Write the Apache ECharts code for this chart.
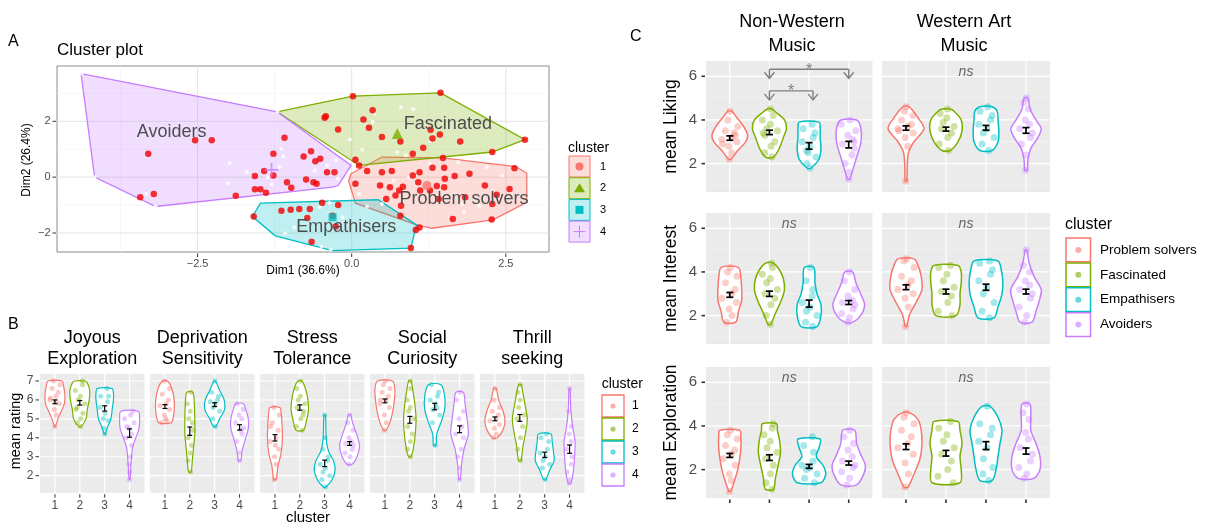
<!DOCTYPE html>
<html><head><meta charset="utf-8">
<script src="https://cdn.jsdelivr.net/npm/echarts@6/dist/echarts.min.js"></script>
<style>html,body{margin:0;padding:0;background:#fff}#c{width:1208px;height:529px}</style>
</head><body><div id="c"></div>
<script>
const FONT = '"Liberation Sans", Arial, Helvetica, sans-serif';
const clusterColors = ['#F8766D','#7CAE00','#00BFC4','#C77CFF'];
const clusterNames = ['Problem solvers','Fascinated','Empathisers','Avoiders'];
const clusterIds = ['1','2','3','4'];

// ---------- Panel A data ----------
const aTicksX = [-2.5, 0, 2.5];
const aTickLabelsX = ['\u22122.5','0.0','2.5'];
const aTicksY = [-2, 0, 2];
const aTickLabelsY = ['\u22122','0','2'];
const hullProblem = [[-0.01,0.12],[0.49,0.72],[1.48,0.69],[2.66,0.38],[2.84,0.14],[2.84,-0.90],[2.29,-1.53],[1.30,-1.83],[1.05,-1.71],[0.06,-0.93],[-0.05,-0.14]];
const hullFascinated = [[-1.21,2.34],[0.02,2.90],[1.44,3.02],[2.81,1.34],[2.28,0.90],[0.12,0.42]];
const hullEmpath = [[-1.48,-0.93],[0.43,-0.81],[1.05,-1.71],[0.96,-2.54],[-0.31,-2.63],[-1.24,-2.10],[-1.61,-1.41]];
const hullAvoid = [[-4.39,3.71],[-1.21,2.34],[-0.01,0.42],[-0.22,-0.30],[-0.31,-0.36],[-3.18,-1.05],[-4.17,0.0]];
const aCenters = [[1.22,-0.30],[0.74,1.56],[-0.31,-1.44],[-1.30,0.26]];
const aLabelPos = [[1.82,-0.78],[1.56,1.92],[-0.09,-1.80],[-2.92,1.62]];
const aRedPoints = [[0.02,2.90],[1.44,3.02],[0.34,2.40],[-0.44,2.13],[-0.42,2.18],[0.19,2.06],[-0.22,1.71],[0.28,1.77],[0.49,1.44],[1.28,1.70],[1.31,1.38],[1.43,1.53],[1.76,1.28],[2.81,1.34],[0.79,1.28],[1.16,1.05],[0.99,0.84],[2.28,0.90],[1.48,0.69],[0.06,0.62],[0.12,0.42],[-1.09,1.41],[-1.27,0.84],[-0.66,0.93],[-0.78,0.74],[-0.59,0.57],[-0.51,0.66],[-2.54,1.32],[-2.27,1.32],[-3.30,0.84],[-1.57,0.04],[-1.42,0.22],[-1.27,0.06],[-1.05,-0.18],[-0.98,-0.38],[-0.74,-0.08],[-0.62,-0.18],[-0.57,-0.24],[-0.40,0.18],[-0.28,0.18],[-1.57,-0.43],[-1.48,-0.43],[-1.39,-0.56],[-1.88,-0.67],[-3.43,-0.72],[-3.21,-0.60],[0.25,0.22],[0.49,0.18],[0.65,0.22],[0.99,0.06],[1.10,0.18],[1.31,0.34],[1.50,0.34],[1.67,0.04],[1.91,0.12],[1.51,-0.06],[1.08,-0.18],[0.46,-0.30],[0.62,-0.36],[0.83,-0.34],[1.11,-0.48],[1.27,-0.48],[1.38,-0.32],[1.50,-0.36],[2.16,-0.30],[2.56,-0.42],[2.64,0.32],[2.35,-0.63],[2.28,-0.96],[1.84,-0.72],[1.41,-0.78],[0.77,-0.48],[0.71,-0.66],[0.80,-1.02],[0.79,-1.38],[0.56,-0.78],[0.06,-0.24],[1.64,-1.50],[2.27,-1.52],[1.10,-1.80],[1.04,-1.89],[0.96,-2.54],[-0.99,-1.17],[-0.85,-1.14],[-0.68,-1.14],[-0.48,-0.92],[-0.22,-1.00],[-1.14,-1.20],[-1.59,-1.41],[-0.72,-1.46],[-0.31,-1.38],[-0.26,-1.77],[-0.65,-2.31]];
const aWhitePoints = [[0.80,2.51],[1.00,2.43],[0.37,2.28],[0.34,1.98],[0.17,0.98],[-0.03,1.35],[0.74,0.90],[1.27,1.29],[0.88,0.78],[-1.98,0.51],[-1.70,0.18],[-1.14,1.02],[-1.11,0.74],[-1.17,0.36],[-1.36,0.00],[-1.30,-0.26],[-2.01,-0.22],[-0.40,0.42],[-0.25,0.60],[-0.22,-0.06],[-0.60,0.24],[-0.36,-0.92],[-0.52,-1.08],[-1.08,-2.01],[-0.93,-1.80],[-0.49,-2.49],[-0.34,-2.60],[-0.15,-1.44],[-0.12,-1.62],[0.12,-0.60],[0.25,-1.05],[0.68,-0.12],[0.93,0.00],[1.27,0.48],[1.73,0.54],[2.19,0.36],[2.44,0.06],[1.79,-0.96],[2.07,-1.02],[1.82,-1.26],[0.49,-0.96],[-1.20,2.34],[-4.17,0.00],[-3.33,-0.60],[-3.18,-1.05],[-4.38,3.71]];

// ---------- Panel B data ----------
const bFacets = ['Joyous\nExploration','Deprivation\nSensitivity','Stress\nTolerance','Social\nCuriosity','Thrill\nseeking'];
const bYTicks = [2,3,4,5,6,7];
const bYTickLabels = ['2','3','4','5','6','7'];
const bXTickLabels = ['1','2','3','4'];
// violin profiles: [rating, half-width]
const bViolins = [
  [ [[4.6,0.02],[5.0,0.12],[5.4,0.25],[5.8,0.38],[6.3,0.4],[6.7,0.35],[7.0,0.28]],
    [[4.6,0.05],[5.0,0.25],[5.5,0.3],[6.0,0.38],[6.5,0.4],[6.9,0.3],[7.0,0.2]],
    [[4.2,0.02],[4.6,0.12],[5.0,0.25],[5.5,0.3],[6.0,0.35],[6.4,0.35],[6.6,0.3]],
    [[1.8,0.02],[2.5,0.05],[3.0,0.08],[3.5,0.12],[4.0,0.25],[4.5,0.38],[5.0,0.4],[5.4,0.35]] ],
  [ [[4.8,0.25],[5.2,0.35],[5.7,0.38],[6.2,0.35],[6.7,0.25],[7.0,0.1]],
    [[2.2,0.05],[2.8,0.1],[3.5,0.15],[4.2,0.2],[5.0,0.2],[5.8,0.18],[6.4,0.12]],
    [[4.6,0.05],[5.0,0.2],[5.5,0.4],[6.0,0.38],[6.5,0.2],[7.0,0.03]],
    [[2.8,0.05],[3.3,0.1],[3.8,0.2],[4.5,0.35],[5.0,0.35],[5.5,0.25],[5.8,0.15]] ],
  [ [[1.8,0.05],[2.5,0.12],[3.2,0.25],[4.0,0.3],[4.8,0.28],[5.3,0.25],[5.6,0.2]],
    [[4.4,0.15],[4.8,0.25],[5.5,0.35],[6.2,0.3],[6.7,0.2],[7.0,0.08]],
    [[1.4,0.05],[1.8,0.3],[2.3,0.42],[2.8,0.35],[3.3,0.15],[4.0,0.06],[5.2,0.03]],
    [[2.6,0.1],[3.0,0.3],[3.6,0.4],[4.2,0.28],[4.8,0.12],[5.2,0.05]] ],
  [ [[4.4,0.05],[4.8,0.2],[5.3,0.3],[6.0,0.38],[6.6,0.4],[7.0,0.3]],
    [[3.0,0.05],[3.5,0.15],[4.2,0.22],[5.0,0.25],[5.8,0.2],[6.5,0.12],[7.0,0.05]],
    [[3.6,0.05],[4.2,0.08],[4.8,0.25],[5.5,0.4],[6.2,0.4],[6.8,0.25]],
    [[1.8,0.03],[2.6,0.08],[3.4,0.18],[4.2,0.35],[5.0,0.3],[5.8,0.22],[6.4,0.15]] ],
  [ [[4.0,0.1],[4.5,0.35],[5.0,0.4],[5.5,0.3],[6.0,0.15],[6.6,0.05]],
    [[2.8,0.05],[3.5,0.12],[4.2,0.22],[5.0,0.3],[5.8,0.2],[6.4,0.12],[6.8,0.05]],
    [[1.8,0.05],[2.3,0.2],[2.8,0.38],[3.3,0.35],[3.8,0.3],[4.2,0.25]],
    [[1.6,0.05],[2.2,0.15],[3.0,0.2],[3.8,0.22],[4.6,0.12],[5.5,0.05],[6.6,0.02]] ]
];
const bPoints = [
  [ [4.6,5.2,5.5,5.8,6.0,6.2,6.4,6.6,6.8,7.0,5.9,6.1],
    [4.6,4.8,5.0,5.3,5.6,5.8,6.0,6.2,6.5,6.8,7.0,5.5],
    [4.2,4.5,4.9,5.0,5.3,5.6,5.9,6.2,6.2,6.6],
    [1.8,2.2,2.6,3.0,3.6,4.0,4.2,4.5,4.8,5.0,5.2,5.4,4.6] ],
  [ [4.8,4.9,5.2,5.5,5.7,5.8,6.0,6.3,6.6,7.0,5.0],
    [2.2,2.8,3.2,3.6,4.0,4.4,5.0,5.4,5.8,6.4,4.8],
    [4.6,5.0,5.4,5.6,5.8,5.9,6.0,6.2,6.4,7.0],
    [2.8,3.2,3.8,4.2,4.5,4.8,5.0,5.2,5.5,5.8,4.4] ],
  [ [1.8,2.6,3.0,3.4,3.8,4.0,4.4,4.8,5.2,5.6,3.6,4.6],
    [4.4,4.6,5.0,5.2,5.6,5.8,6.0,6.2,6.6,7.0,5.4],
    [1.4,1.8,2.0,2.2,2.4,2.6,2.8,3.0,3.4,4.0,5.2],
    [2.6,3.0,3.2,3.4,3.6,3.7,3.8,4.0,4.4,4.8,5.2] ],
  [ [4.4,4.8,5.2,5.6,5.8,6.0,6.2,6.4,6.6,6.8,7.0,6.0],
    [3.0,3.4,3.8,4.2,4.6,5.0,5.4,5.6,6.0,6.6,7.0],
    [3.6,4.8,5.2,5.5,5.8,6.0,6.2,6.4,6.8,5.6],
    [1.8,2.4,3.0,3.4,4.0,4.2,4.6,5.0,5.4,6.0,6.4] ],
  [ [4.0,4.2,4.5,4.7,4.9,5.0,5.2,5.4,5.6,6.0,6.6],
    [2.8,3.4,4.0,4.6,5.0,5.2,5.6,6.0,6.4,6.8],
    [1.8,2.4,2.6,2.8,3.0,3.2,3.4,3.8,4.0,4.2],
    [1.6,1.8,2.2,2.6,3.0,3.4,3.8,4.2,4.6,5.4,6.6] ]
];
const bMeans = [[5.9,5.85,5.55,4.25],[5.65,4.35,5.75,4.55],[4.0,5.6,2.65,3.7],[5.95,4.95,5.65,4.45],[5.0,5.05,3.1,3.4]];
const bSE = [[0.1,0.12,0.14,0.22],[0.1,0.22,0.1,0.14],[0.17,0.14,0.17,0.1],[0.1,0.18,0.17,0.18],[0.1,0.18,0.14,0.22]];

// ---------- Panel C data ----------
const cCols = ['Non-Western\nMusic','Western Art\nMusic'];
const cRows = ['mean Liking','mean Interest','mean Exploration'];
const cYTicks = [2,4,6];
const cYTickLabels = ['2','4','6'];
// cViolins[row][col][cluster]
const cViolins = [
  [ [ [[2.2,0.03],[2.6,0.2],[3.0,0.4],[3.3,0.45],[3.7,0.35],[4.1,0.18],[4.4,0.05]],
      [[2.3,0.1],[2.7,0.25],[3.2,0.35],[3.6,0.43],[4.0,0.38],[4.3,0.2],[4.5,0.05]],
      [[1.8,0.05],[2.2,0.25],[2.7,0.3],[3.2,0.28],[3.6,0.28],[3.9,0.25]],
      [[1.3,0.03],[1.7,0.1],[2.3,0.2],[2.9,0.3],[3.4,0.32],[3.8,0.28],[4.0,0.2]] ],
    [ [[1.2,0.02],[1.8,0.03],[2.5,0.06],[3.0,0.2],[3.6,0.45],[4.1,0.3],[4.6,0.08]],
      [[2.6,0.1],[3.0,0.3],[3.5,0.4],[4.0,0.38],[4.4,0.2],[4.5,0.1]],
      [[2.6,0.15],[3.0,0.3],[3.5,0.32],[4.0,0.3],[4.4,0.28],[4.6,0.15]],
      [[1.7,0.03],[2.2,0.05],[2.7,0.12],[3.2,0.3],[3.6,0.38],[4.0,0.25],[4.5,0.1],[5.0,0.05]] ] ],
  [ [ [[1.7,0.15],[2.2,0.22],[2.7,0.3],[3.2,0.3],[3.7,0.28],[4.2,0.22]],
      [[1.6,0.03],[2.1,0.15],[2.7,0.3],[3.2,0.38],[3.7,0.35],[4.1,0.25],[4.4,0.1]],
      [[1.5,0.2],[2.0,0.3],[2.5,0.3],[3.0,0.2],[3.5,0.15],[4.2,0.12]],
      [[1.7,0.1],[2.0,0.3],[2.5,0.4],[3.0,0.3],[3.5,0.18],[4.0,0.1]] ],
    [ [[1.5,0.02],[2.0,0.08],[2.6,0.25],[3.2,0.4],[3.8,0.38],[4.3,0.3],[4.6,0.2]],
      [[2.0,0.25],[2.5,0.35],[3.0,0.35],[3.5,0.38],[4.0,0.38],[4.3,0.3]],
      [[1.9,0.2],[2.4,0.3],[3.0,0.4],[3.6,0.42],[4.1,0.38],[4.5,0.3]],
      [[1.7,0.15],[2.2,0.25],[2.8,0.35],[3.2,0.38],[3.8,0.2],[4.4,0.08],[5.0,0.02]] ] ],
  [ [ [[1.0,0.02],[1.5,0.12],[2.0,0.2],[2.5,0.25],[3.0,0.28],[3.5,0.28],[3.8,0.25]],
      [[1.1,0.1],[1.6,0.15],[2.2,0.22],[2.8,0.28],[3.4,0.25],[3.8,0.2],[4.1,0.18]],
      [[1.4,0.3],[1.8,0.42],[2.2,0.35],[2.6,0.18],[3.0,0.25],[3.4,0.28]],
      [[1.3,0.2],[1.8,0.38],[2.2,0.42],[2.7,0.3],[3.2,0.2],[3.8,0.15]] ],
    [ [[1.2,0.05],[1.8,0.2],[2.5,0.35],[3.2,0.4],[3.8,0.38],[4.3,0.3],[4.6,0.1]],
      [[1.4,0.35],[2.0,0.38],[2.6,0.35],[3.2,0.4],[3.8,0.35],[4.2,0.3]],
      [[1.5,0.15],[2.0,0.25],[2.6,0.3],[3.2,0.35],[3.8,0.4],[4.4,0.3],[4.9,0.1]],
      [[1.6,0.2],[2.0,0.35],[2.6,0.35],[3.2,0.25],[3.8,0.12],[4.4,0.12],[5.0,0.1]] ] ]
];
const cPoints = [
  [ [ [2.2,2.5,2.8,3.0,3.1,3.2,3.3,3.5,3.7,4.0,4.4,2.9,3.4],
      [2.3,2.5,2.8,3.0,3.3,3.5,3.6,3.8,4.0,4.2,4.5,3.4],
      [1.8,2.0,2.3,2.6,2.8,3.0,3.2,3.4,3.6,3.8,2.5],
      [1.3,1.6,2.0,2.4,2.7,2.9,3.1,3.3,3.5,3.8,4.0,3.0] ],
    [ [1.2,2.8,3.2,3.4,3.6,3.7,3.8,4.0,4.2,4.4,4.6,3.5],
      [2.6,2.9,3.2,3.4,3.6,3.7,3.9,4.1,4.3,4.5],
      [2.6,2.9,3.2,3.4,3.6,3.8,4.0,4.2,4.4,4.6],
      [1.7,2.4,2.9,3.2,3.4,3.6,3.8,4.0,4.5,4.8,5.0] ] ],
  [ [ [1.7,2.0,2.3,2.6,2.8,3.0,3.2,3.5,3.8,4.0,4.2],
      [1.6,2.0,2.5,2.8,3.0,3.2,3.5,3.7,3.9,4.2,4.4],
      [1.5,1.7,2.0,2.2,2.4,2.6,2.9,3.2,3.6,4.2],
      [1.7,1.9,2.1,2.3,2.5,2.6,2.7,2.9,3.2,3.6,4.0] ],
    [ [1.5,2.4,2.8,3.0,3.2,3.4,3.6,3.8,4.2,4.5,4.6],
      [2.0,2.2,2.6,2.9,3.1,3.3,3.6,3.9,4.2,4.3],
      [1.9,2.2,2.6,3.0,3.3,3.6,3.9,4.1,4.4,4.5],
      [1.7,2.0,2.4,2.8,3.0,3.2,3.4,3.6,4.0,4.3,5.0] ] ],
  [ [ [1.0,1.5,1.8,2.2,2.5,2.7,2.9,3.1,3.4,3.6,3.8],
      [1.1,1.4,1.8,2.2,2.5,2.8,3.0,3.3,3.6,3.9,4.1],
      [1.4,1.6,1.8,2.0,2.1,2.2,2.4,2.8,3.1,3.5],
      [1.3,1.6,1.9,2.1,2.2,2.4,2.6,2.9,3.2,3.5,3.8] ],
    [ [1.2,1.8,2.3,2.7,3.0,3.2,3.5,3.8,4.1,4.4,4.6],
      [1.4,1.7,2.0,2.4,2.7,3.0,3.3,3.6,3.9,4.2],
      [1.5,1.8,2.1,2.5,3.0,3.3,3.6,3.9,4.1,4.9],
      [1.6,1.8,2.1,2.4,2.7,3.0,3.4,3.7,4.3,4.6,5.0] ] ]
];
const cMeans = [ [[3.17,3.43,2.81,2.87],[3.63,3.58,3.64,3.52]],
                 [[2.95,3.0,2.55,2.6],[3.3,3.1,3.3,3.1]],
                 [[2.65,2.55,2.15,2.3],[3.05,2.75,3.1,2.85]] ];
const cSE = [ [[0.1,0.1,0.15,0.15],[0.1,0.09,0.11,0.13]],
              [[0.11,0.12,0.16,0.09],[0.11,0.11,0.14,0.11]],
              [[0.09,0.13,0.09,0.09],[0.13,0.13,0.18,0.14]] ];
const sigBrackets = [[2,4,6.32],[2,3.1,5.33]];
const sigLabels = ['*','*'];
const nsLabel = 'ns';
const nsPos = [2.5, 6.2];

// ---------- layout (pixels) ----------
const jitterPattern = [-0.35,0.2,-0.05,0.4,-0.45,0.1,0.3,-0.25,0.45,-0.15,0.05,-0.4,0.25,0.35];
const A_RANGE = {x:[-4.78,3.2], y:[-2.68,3.98]};
const B_RANGE = {x:[0.4,4.6], y:[1.1,7.37]};
const C_RANGE = {x:[0.4,4.6], y:[0.7,6.7]};
const bLefts = [40,150,260,370,480], bTop = 374, bW = 104.5, bH = 118.7;
const cLefts = [706,882], cWs = [166.5,168], cTops = [61,213,367], cH = 131;

function halfWidthAt(prof, y){
  if (y <= prof[0][0]) return prof[0][1];
  for (let i=1;i<prof.length;i++){
    if (y <= prof[i][0]) {
      const t = (y-prof[i-1][0])/(prof[i][0]-prof[i-1][0]);
      return prof[i-1][1] + t*(prof[i][1]-prof[i-1][1]);
    }
  }
  return prof[prof.length-1][1];
}
function hexA(hex, a){
  const r=parseInt(hex.slice(1,3),16), g=parseInt(hex.slice(3,5),16), b=parseInt(hex.slice(5,7),16);
  return 'rgba('+r+','+g+','+b+','+a+')';
}
function ln(a,b,color,w){ return {type:'line', shape:{x1:a[0],y1:a[1],x2:b[0],y2:b[1]}, style:{stroke:color,lineWidth:w}}; }
function tx(x,y,text,font,fill,align,valign,extra){
  const el = {type:'text', x:x, y:y, style:{text:text, font:font, fill:fill, align:align, textAlign:align, verticalAlign:valign, textVerticalAlign:valign}};
  if (extra) Object.assign(el, extra);
  return el;
}

const grids = [], xAxes = [], yAxes = [], series = [];
function addGrid(rect, range, bg, border){
  const gi = grids.length;
  grids.push(Object.assign({show:true, backgroundColor:bg, borderWidth:border?1:0, borderColor:border||'transparent', containLabel:false}, rect));
  xAxes.push({gridIndex:gi, type:'value', min:range.x[0], max:range.x[1], show:false});
  yAxes.push({gridIndex:gi, type:'value', min:range.y[0], max:range.y[1], show:false});
  return gi;
}
function frame(gi, cfg){
  return {type:'custom', xAxisIndex:gi, yAxisIndex:gi, z:1, silent:true, clip:false,
    data:[[ (cfg.xr[0]+cfg.xr[1])/2, (cfg.yr[0]+cfg.yr[1])/2 ]],
    renderItem: function(params, api){
      const P = (x,y)=>api.coord([x,y]);
      const ch = [];
      (cfg.yMinor||[]).forEach(v=>ch.push(ln(P(cfg.xr[0],v),P(cfg.xr[1],v),cfg.minorColor,cfg.minorW)));
      (cfg.xMinor||[]).forEach(v=>ch.push(ln(P(v,cfg.yr[0]),P(v,cfg.yr[1]),cfg.minorColor,cfg.minorW)));
      cfg.yMajor.forEach(v=>ch.push(ln(P(cfg.xr[0],v),P(cfg.xr[1],v),cfg.majorColor,cfg.majorW)));
      cfg.xMajor.forEach(v=>ch.push(ln(P(v,cfg.yr[0]),P(v,cfg.yr[1]),cfg.majorColor,cfg.majorW)));
      if (cfg.yLabels) cfg.yMajor.forEach((v,i)=>{
        const p = P(cfg.xr[0],v);
        ch.push(ln([p[0]-4.5,p[1]],[p[0]-1,p[1]],'#333',cfg.tickW||1));
        ch.push(tx(p[0]-cfg.yLabelGap,p[1],cfg.yLabels[i],cfg.labelFont,'#4D4D4D','right','middle'));
      });
      if (cfg.xTicks) cfg.xMajor.forEach((v,i)=>{
        const p = P(v,cfg.yr[0]);
        ch.push(ln([p[0],p[1]+1.5],[p[0],p[1]+5],'#333',cfg.tickW||1));
        if (cfg.xLabels) ch.push(tx(p[0],p[1]+6.5,cfg.xLabels[i],cfg.labelFont,'#4D4D4D','center','top'));
      });
      return {type:'group', children:ch};
    }};
}
function violinSeries(gi, profiles, lw){
  return {type:'custom', xAxisIndex:gi, yAxisIndex:gi, z:2, silent:true,
    data: profiles.map((p,k)=>[k+1, p[0][0]]),
    renderItem: function(params, api){
      const k = params.dataIndex, c = api.value(0), prof = profiles[k];
      const pts = [];
      prof.forEach(q=>pts.push(api.coord([c+q[1], q[0]])));
      for (let i=prof.length-1;i>=0;i--) pts.push(api.coord([c-prof[i][1], prof[i][0]]));
      return {type:'polygon', shape:{points:pts, smooth:0.3}, style:{fill:'#fff', stroke:clusterColors[k], lineWidth:lw}};
    }};
}
function pointSeries(gi, profiles, pts, size, op){
  const data = [];
  pts.forEach((arr,k)=>{
    arr.forEach((y,i)=>{
      const w = Math.min(halfWidthAt(profiles[k], y), 0.3);
      const off = jitterPattern[(i + k*3) % jitterPattern.length] * w * 1.5;
      data.push({value:[k+1+off, y], itemStyle:{color:hexA(clusterColors[k], op)}});
    });
  });
  return {type:'scatter', xAxisIndex:gi, yAxisIndex:gi, z:3, silent:true, symbol:'circle', symbolSize:size, data:data, itemStyle:{borderWidth:0}};
}
function errSeries(gi, means, se, lw, cap){
  return {type:'custom', xAxisIndex:gi, yAxisIndex:gi, z:4, silent:true,
    data: means.map((m,k)=>[k+1, m, se[k]]),
    renderItem: function(params, api){
      const x=api.value(0), m=api.value(1), s=api.value(2);
      const lo = api.coord([x, m-s]), hi = api.coord([x, m+s]);
      return {type:'group', children:[
        ln(lo,hi,'#000',lw),
        ln([lo[0]-cap,lo[1]],[lo[0]+cap,lo[1]],'#000',lw),
        ln([hi[0]-cap,hi[1]],[hi[0]+cap,hi[1]],'#000',lw)
      ]};
    }};
}

// ---------- Panel A ----------
const gA = addGrid({left:57, top:66, width:492, height:186}, A_RANGE, '#fff', '#8C8C8C');
series.push(frame(gA, {xr:A_RANGE.x, yr:A_RANGE.y, xMajor:aTicksX, xMinor:[-3.75,-1.25,1.25], yMajor:aTicksY, yMinor:[-1,1,3],
  majorColor:'#E4E4E4', majorW:1, minorColor:'#F1F1F1', minorW:0.6, yLabels:aTickLabelsY, yLabelGap:6.5, xTicks:true, xLabels:aTickLabelsX,
  labelFont:'11px '+FONT, tickW:1}));
const hulls = [hullProblem, hullFascinated, hullEmpath, hullAvoid];
series.push({type:'custom', xAxisIndex:gA, yAxisIndex:gA, z:2, silent:true,
  data: hulls.map((h,k)=>[h[0][0], h[0][1], k]),
  renderItem: function(params, api){
    const k = params.dataIndex;
    const pts = hulls[k].map(p=>api.coord(p));
    return {type:'polygon', shape:{points:pts}, style:{fill:hexA(clusterColors[k],0.25), stroke:clusterColors[k], lineWidth:1.3}};
  }});
series.push({type:'scatter', xAxisIndex:gA, yAxisIndex:gA, z:3, silent:true, symbolSize:4, data:aWhitePoints, itemStyle:{color:'#fff'}});
series.push({type:'scatter', xAxisIndex:gA, yAxisIndex:gA, z:4, silent:true, symbolSize:6.5, data:aRedPoints, itemStyle:{color:'#F20000'}});
const centerSymbols = ['circle','triangle','rect','path://M4.4,0H5.6V4.4H10V5.6H5.6V10H4.4V5.6H0V4.4H4.4Z'];
const centerSizes = [9,11,8,14];
aCenters.forEach((p,k)=>series.push({type:'scatter', xAxisIndex:gA, yAxisIndex:gA, z:5, silent:true,
  symbol:centerSymbols[k], symbolSize:centerSizes[k], data:[p], itemStyle:{color:clusterColors[k]}}));
series.push({type:'custom', xAxisIndex:gA, yAxisIndex:gA, z:6, silent:true,
  data: aLabelPos.map((p,k)=>[p[0],p[1],k]),
  renderItem: function(params, api){
    const p = api.coord([api.value(0), api.value(1)]);
    return tx(p[0],p[1],clusterNames[params.dataIndex],'18px '+FONT,'#4D4D4D','center','middle');
  }});

// ---------- Panel B ----------
bFacets.forEach((f,fi)=>{
  const gi = addGrid({left:bLefts[fi], top:bTop, width:bW, height:bH}, B_RANGE, '#EBEBEB', null);
  series.push(frame(gi, {xr:B_RANGE.x, yr:B_RANGE.y, xMajor:[1,2,3,4], yMajor:bYTicks, yMinor:[1.5,2.5,3.5,4.5,5.5,6.5],
    majorColor:'#fff', majorW:1.1, minorColor:'rgba(255,255,255,0.6)', minorW:0.5,
    yLabels: fi===0 ? bYTickLabels : null, yLabelGap:6.5, xTicks:true, xLabels:bXTickLabels, labelFont:'12px '+FONT, tickW:1}));
  series.push(violinSeries(gi, bViolins[fi], 1.2));
  series.push(pointSeries(gi, bViolins[fi], bPoints[fi], 5, 0.5));
  series.push(errSeries(gi, bMeans[fi], bSE[fi], 1.2, 2.5));
});

// ---------- Panel C ----------
const cGridIdx = [];
cRows.forEach((rname,ri)=>{
  cCols.forEach((cname,ci)=>{
    const gi = addGrid({left:cLefts[ci], top:cTops[ri], width:cWs[ci], height:cH}, C_RANGE, '#EBEBEB', null);
    cGridIdx.push(gi);
    series.push(frame(gi, {xr:C_RANGE.x, yr:C_RANGE.y, xMajor:[1,2,3,4], yMajor:cYTicks, yMinor:[1,3,5],
      majorColor:'#fff', majorW:1.2, minorColor:'rgba(255,255,255,0.6)', minorW:0.6,
      yLabels: ci===0 ? cYTickLabels : null, yLabelGap:9, xTicks: ri===2, xLabels:null, labelFont:'15px '+FONT, tickW:1.6}));
    series.push(violinSeries(gi, cViolins[ri][ci], 1.5));
    series.push(pointSeries(gi, cViolins[ri][ci], cPoints[ri][ci], 7, 0.45));
    series.push(errSeries(gi, cMeans[ri][ci], cSE[ri][ci], 1.7, 3.5));
    if (!(ri===0 && ci===0)) {
      series.push({type:'custom', xAxisIndex:gi, yAxisIndex:gi, z:5, silent:true, data:[nsPos],
        renderItem: function(params, api){
          const p = api.coord([api.value(0), api.value(1)]);
          return tx(p[0],p[1],nsLabel,'italic 14px '+FONT,'#666','center','middle');
        }});
    }
  });
});
// significance brackets (Non-Western, Liking)
series.push({type:'custom', xAxisIndex:cGridIdx[0], yAxisIndex:cGridIdx[0], z:5, silent:true, clip:false,
  data: sigBrackets.map(b=>[b[0],b[2]]),
  renderItem: function(params, api){
    const b = sigBrackets[params.dataIndex];
    const a = api.coord([b[0],b[2]]), e = api.coord([b[1],b[2]]);
    const col = '#808080', drop = 9, ch = [ln(a,e,col,1.4)];
    [a,e].forEach(p=>{
      ch.push(ln(p,[p[0],p[1]+drop],col,1.4));
      ch.push({type:'polyline', shape:{points:[[p[0]-5,p[1]+drop-6],[p[0],p[1]+drop],[p[0]+5,p[1]+drop-6]]}, style:{stroke:col, lineWidth:1.4, fill:null}});
    });
    ch.push(tx((a[0]+e[0])/2, a[1]+1, sigLabels[params.dataIndex], '16px '+FONT, col, 'center', 'middle'));
    return {type:'group', children:ch};
  }});

// ---------- static texts & legends ----------
const graphics = [];
graphics.push(tx(8,42,'A','16px '+FONT,'#000','left','middle'));
graphics.push(tx(57,50,'Cluster plot','17px '+FONT,'#000','left','middle'));
graphics.push(tx(27,160,'Dim2 (26.4%)','12px '+FONT,'#000','center','middle',{rotation:Math.PI/2}));
graphics.push(tx(303,271,'Dim1 (36.6%)','12px '+FONT,'#000','center','middle'));
// legend A
graphics.push(tx(568,148,'cluster','14px '+FONT,'#000','left','middle'));
clusterIds.forEach((id,k)=>{
  const y = 156 + k*21.7, cx = 579.5, cy = y+10.5;
  graphics.push({type:'rect', shape:{x:569,y:y,width:21,height:21}, style:{fill:hexA(clusterColors[k],0.25), stroke:clusterColors[k], lineWidth:1}});
  if (k===0) graphics.push({type:'circle', shape:{cx:cx,cy:cy,r:4}, style:{fill:clusterColors[k]}});
  if (k===1) graphics.push({type:'polygon', shape:{points:[[cx,cy-5],[cx+5.5,cy+4],[cx-5.5,cy+4]]}, style:{fill:clusterColors[k]}});
  if (k===2) graphics.push({type:'rect', shape:{x:cx-4,y:cy-4,width:8,height:8}, style:{fill:clusterColors[k]}});
  if (k===3) { graphics.push(ln([cx-6,cy],[cx+6,cy],clusterColors[k],1)); graphics.push(ln([cx,cy-6],[cx,cy+6],clusterColors[k],1)); }
  graphics.push(tx(600,cy,id,'11px '+FONT,'#000','left','middle'));
});
// panel B texts
graphics.push(tx(8,325,'B','16px '+FONT,'#000','left','middle'));
bFacets.forEach((f,fi)=>{
  const lines = f.split('\n'), cx = bLefts[fi] + bW/2;
  graphics.push(tx(cx,338,lines[0],'18px '+FONT,'#000','center','middle'));
  graphics.push(tx(cx,359,lines[1],'18px '+FONT,'#000','center','middle'));
});
graphics.push(tx(16,431,'mean rating','14.5px '+FONT,'#000','center','middle',{rotation:Math.PI/2}));
graphics.push(tx(308,518,'cluster','15px '+FONT,'#000','center','middle'));
graphics.push(tx(601.7,384,'cluster','14px '+FONT,'#000','left','middle'));
clusterIds.forEach((id,k)=>{
  const y = 395 + k*23;
  graphics.push({type:'rect', shape:{x:602,y:y,width:22,height:22}, style:{fill:'#fff', stroke:clusterColors[k], lineWidth:1.3}});
  graphics.push({type:'circle', shape:{cx:613,cy:y+11,r:2.6}, style:{fill:hexA(clusterColors[k],0.6)}});
  graphics.push(tx(632,y+11,id,'12px '+FONT,'#000','left','middle'));
});
// panel C texts
graphics.push(tx(630,37,'C','16px '+FONT,'#000','left','middle'));
const cTitleX = [792, 964];
cCols.forEach((c,ci)=>{
  const lines = c.split('\n');
  graphics.push(tx(cTitleX[ci],22,lines[0],'18px '+FONT,'#000','center','middle'));
  graphics.push(tx(cTitleX[ci],46,lines[1],'18px '+FONT,'#000','center','middle'));
});
cRows.forEach((r,ri)=>{
  graphics.push(tx(671, cTops[ri]+cH/2, r, '17.5px '+FONT, '#000','center','middle',{rotation:Math.PI/2}));
});
graphics.push(tx(1065,225,'cluster','16px '+FONT,'#000','left','middle'));
clusterNames.forEach((n,k)=>{
  const y = 238 + k*24.9;
  graphics.push({type:'rect', shape:{x:1066,y:y,width:24.5,height:23.8}, style:{fill:'#fff', stroke:clusterColors[k], lineWidth:1.5}});
  graphics.push({type:'circle', shape:{cx:1078.3,cy:y+11.9,r:3}, style:{fill:hexA(clusterColors[k],0.6)}});
  graphics.push(tx(1100,y+11.9,n,'13.5px '+FONT,'#000','left','middle'));
});

const chart = echarts.init(document.getElementById('c'), null, {renderer:'canvas'});
chart.setOption({
  animation:false,
  backgroundColor:'#fff',
  grid: grids, xAxis: xAxes, yAxis: yAxes,
  series: series,
  graphic: {elements: graphics}
});
</script></body></html>
